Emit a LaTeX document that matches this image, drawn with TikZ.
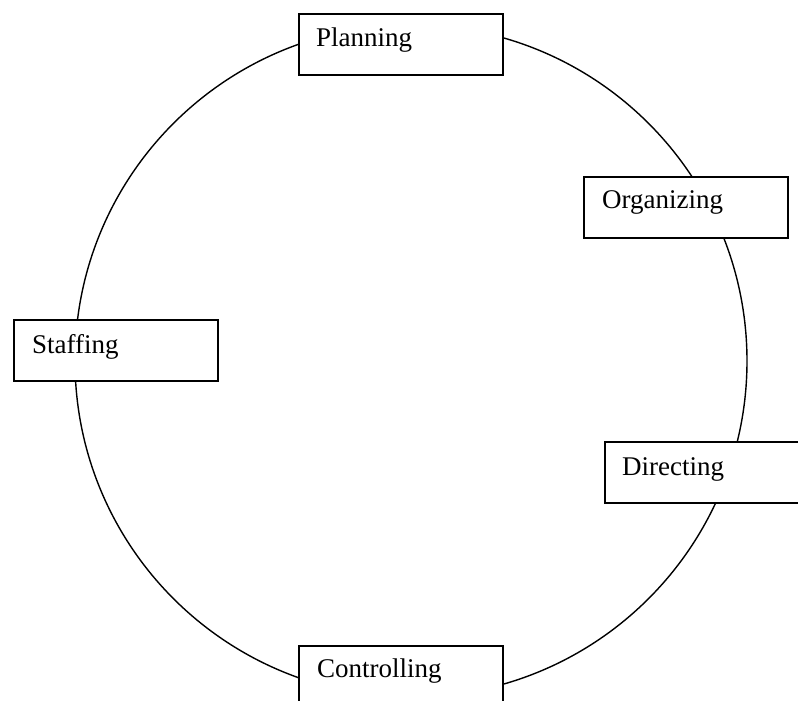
\documentclass[tikz,border=0pt]{standalone}
\usepackage{fontspec}
\setmainfont{Liberation Serif}
\tikzset{
  stage/.style={draw, line width=1.7pt, fill=white, minimum width=204pt,
    minimum height=61pt, anchor=north west, inner sep=0pt},
  stagetext/.style={anchor=base west, inner sep=0pt,
    font=\fontsize{27}{32}\selectfont},
  ring/.style={line width=1.4pt},
}
\begin{document}
\begin{tikzpicture}[x=1pt, y=-1pt]
\useasboundingbox (0,0) rectangle (798,701);
% the management cycle
\draw[ring] (411,361) circle[radius=336pt];
% function boxes placed on the cycle
\node[stage] (plan) at (298,13) {};
\node[stage] (org)  at (583,176) {};
\node[stage] (staff) at (13,319) {};
\node[stage] (dir)  at (604,441) {};
\node[stage] (ctrl) at (298,645) {};
% labels
\node[stagetext] (planT)  at (316,47)  {Planning};
\node[stagetext] (orgT)   at (602,208) {Organizing};
\node[stagetext] (staffT) at (32,353)  {Staffing};
\node[stagetext] (dirT)   at (622,475) {Directing};
\node[stagetext] (ctrlT)  at (317,677) {Controlling};
\end{tikzpicture}
\end{document}
